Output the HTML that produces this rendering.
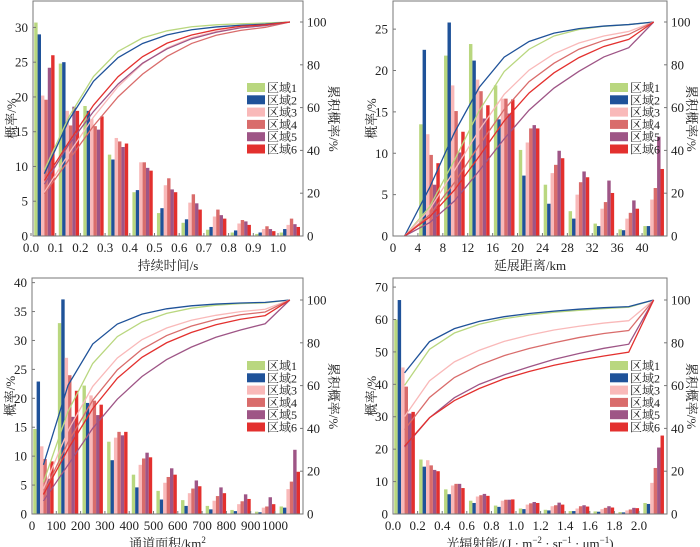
<!DOCTYPE html>
<html><head><meta charset="utf-8">
<style>
html,body{margin:0;padding:0;background:#fff;}
svg{display:block;}
text{font-family:"Liberation Serif","Noto Serif CJK SC","Noto Sans CJK SC",serif;fill:#222;}
</style></head>
<body>
<svg id="chart" width="700" height="547" viewBox="0 0 700 547" xmlns="http://www.w3.org/2000/svg"></svg>
<script>
// ---- shared
const regionNames = ["区域1","区域2","区域3","区域4","区域5","区域6"];
const regionColors = ["#b9d77f","#1f5299","#f9b9b9","#d96c6b","#9e5586","#e3302e"];

// ---- panel 1: duration
const durTicks = ["0.0","0.1","0.2","0.3","0.4","0.5","0.6","0.7","0.8","0.9","1.0"];
const durR1 = [30.7,24.8,18.7,11.7,6.3,3.3,1.9,0.9,0.5,0.3,0.5];
const durR2 = [29,25,18,11,6.6,4,2.4,1.3,0.8,0.5,1.0];
const durR3 = [20.2,18,16.8,14.1,10.6,7.3,4.8,2.8,1.8,1.0,1.6];
const durR4 = [19.6,15.9,15.8,13.6,10.6,8.3,6,3.8,2.3,1.4,2.5];
const durR5 = [24.2,18.6,15.3,12.8,9.8,6.7,4.7,3,2.1,1.0,1.7];
const durR6 = [26,18,17.2,13.3,9.4,6.3,3.8,2.5,1.6,0.7,1.3];
const durYTicks = [0,5,10,15,20,25,30];

// ---- panel 2: extension distance
const distTicks = [0,4,8,12,16,20,24,28,32,36,40];
const distR1 = [13.5,21.8,23.2,18.2,10.4,6.2,3,1.5,0.8,1.2];
const distR2 = [22.5,25.8,21.2,14.1,7.3,3.9,2.1,1.2,0.7,1.2];
const distR3 = [12.3,18.2,18.9,16.6,11.3,7.6,5,3.3,2.1,4.4];
const distR4 = [9.8,15.1,17.5,16.6,13,8.6,6.5,4.1,2.8,5.8];
const distR5 = [6.2,10.1,14.2,14.8,13.4,10.3,7.8,6.7,4.3,12];
const distR6 = [8.8,12.6,15.8,16.5,13,9.4,7.1,5.2,3.3,8.1];
const distYTicks = [0,5,10,15,20,25];

// ---- panel 3: channel area
const areaTicks = ["0","100","200","300","400","500","600","700","800","900","1000"];
const areaR1 = [14.7,33,22.2,12.5,6.8,4,2.4,1.4,0.7,0.4,1.3];
const areaR2 = [22.9,37.1,19.2,9.3,4.6,2.5,1.4,0.8,0.5,0.3,1.1];
const areaR3 = [11.7,27,20.5,13.2,8.5,5.4,3.6,2.3,1.7,1.1,4.3];
const areaR4 = [9.5,24,19.6,14.2,9.6,6.4,4.4,3.1,2.2,1.3,5.6];
const areaR5 = [6.1,16.8,17.1,13.6,10.6,7.9,5.8,4.6,3.4,2.9,11.1];
const areaR6 = [9.1,21.3,18.9,14.2,9.8,6.8,4.8,3.6,2.6,1.7,7.3];
const areaYTicks = [0,5,10,15,20,25,30,35,40];

// ---- panel 4: radiance
const radTicks = ["0.0","0.2","0.4","0.6","0.8","1.0","1.2","1.4","1.6","1.8","2.0"];
const radR1 = [60,16.8,7.6,4.1,2.6,1.7,1.3,0.9,0.8,0.6,3.4];
const radR2 = [66,14.6,6.1,3.4,2.2,1.5,1.1,0.9,0.7,0.5,3.1];
const radR3 = [45.2,16.6,8.8,5.4,4.1,2.9,2.4,1.7,1.5,1.1,9.6];
const radR4 = [39.3,15,9.3,5.8,4.4,3.3,2.7,2.4,1.9,1.4,14.2];
const radR5 = [31,13.6,9.3,6.2,4.4,3.7,3.5,2.7,2.4,1.9,20.5];
const radR6 = [31.5,13.2,8,5.6,4.5,3.4,2.9,2.3,2,1.8,24.2];
const radYTicks = [0,10,20,30,40,50,60,70];

const cumTicks = [0,20,40,60,80,100];

const NS = "http://www.w3.org/2000/svg";
const svg = document.getElementById('chart');
function mk(tag, attrs, parent){
  const e = document.createElementNS(NS, tag);
  for (const k in attrs) e.setAttribute(k, attrs[k]);
  (parent||svg).appendChild(e);
  return e;
}

function drawPanel(p){
  const g = mk('g', {});
  
  
  const yL = v => p.bottom - (v / p.yMax) * (p.bottom - p.top);
  const yR = v => p.bottom - (v / 100) * (p.bottom - p.r100);
  const binW = (p.right - p.left) / p.binsSpan;
  const binStart = i => p.left + (i + p.binOffset) * binW;
  const barW = binW * 0.138;
  p.series.forEach((s, r) => {
    s.forEach((v, i) => {
      const x = binStart(i) + binW*0.05 + r * barW;
      const rect = mk('rect', {x: x.toFixed(2), y: yL(v).toFixed(2), width: barW.toFixed(2), height: (p.bottom - yL(v)).toFixed(2), fill: regionColors[r]}, g);
      
      
    });
  });
  p.series.forEach((s, r) => {
    const total = s.reduce((a,b)=>a+b,0);
    let c = 0; const pts = [];
    const cx = i => binStart(i) + binW*0.05 + 3*barW;
    if (p.lineStartZero) pts.push([cx(-1), yR(0)]);
    s.forEach((v,i) => { c += v; pts.push([cx(i), yR(c/total*100)]); });
    const pl = mk('polyline', {points: pts.map(q=>q[0].toFixed(2)+','+q[1].toFixed(2)).join(' '), fill:'none', stroke: regionColors[r], 'stroke-width': 1.3}, g);
    
    
  });
  const fr = mk('rect', {x: p.left, y: p.top, width: p.right - p.left, height: p.bottom - p.top, fill:'none', stroke:'#777', 'stroke-width':1}, g);
  
  
  p.yTicks.forEach(v => {
    mk('line', {x1:p.left, x2:p.left+3, y1:yL(v), y2:yL(v), stroke:'#777'}, g);
    const t = mk('text', {x:p.left-5, y:yL(v)+4.5, 'text-anchor':'end', 'font-size':13}, g);
    t.textContent = v;
    
    
  });
  cumTicks.forEach(v => {
    mk('line', {x1:p.right-3, x2:p.right, y1:yR(v), y2:yR(v), stroke:'#777'}, g);
    const t = mk('text', {x:p.right+4, y:yR(v)+4.5, 'text-anchor':'start', 'font-size':13}, g);
    t.textContent = v;
    
    
  });
  p.xTicks.forEach((lab, i) => {
    const x = p.xTickPos(i);
    mk('line', {x1:x, x2:x, y1:p.bottom, y2:p.bottom-3, stroke:'#777'}, g);
    const t = mk('text', {x:x, y:p.bottom+16, 'text-anchor':'middle', 'font-size':13}, g);
    t.textContent = lab;
    
    
  });
  const xt = mk('text', {x:(p.left+p.right)/2, y:p.bottom+34, 'text-anchor':'middle', 'font-size':13}, g);
  xt.innerHTML = p.xTitle;
  
  
  const ym = (p.top+p.bottom)/2;
  const yt = mk('text', {x:0, y:0, 'text-anchor':'middle', 'font-size':13, transform:`translate(${p.left-17},${ym}) rotate(-90)`}, g);
  yt.textContent = '概率/%';
  
  
  const y2t = mk('text', {x:0, y:0, 'text-anchor':'middle', 'font-size':13, transform:`translate(${p.right+p.y2off},${ym}) rotate(90)`}, g);
  y2t.textContent = '累积概率/%';
  
  
  const lg = mk('g', {}, g);
  
  
  regionNames.forEach((n, r) => {
    const y = p.legY + r * 12.3;
    const sw = mk('rect', {x:p.legX, y:y, width:18, height:9, fill:regionColors[r]}, lg);
    
    
    const t = mk('text', {x:p.legX+20, y:y+9, 'font-size':12}, lg);
    t.textContent = n;
    
    
  });
}

drawPanel({name:'duration-panel', left:33, right:303, top:1, bottom:236, r100:22, yMax:33.8,
  series:[durR1,durR2,durR3,durR4,durR5,durR6], binsSpan:11, binOffset:0, y2off:26,
  yTicks:durYTicks, xTicks:durTicks, xTickPos:i=>31+24.7*i,
  xTitle:'持续时间/s', legX:247, legY:83});
drawPanel({name:'distance-panel', left:393, right:667, top:1, bottom:236, r100:22, yMax:28.4,
  series:[distR1,distR2,distR3,distR4,distR5,distR6], binsSpan:11, binOffset:1, lineStartZero:true, y2off:20,
  yTicks:distYTicks, xTicks:distTicks, xTickPos:i=>393+i*4*6.227,
  xTitle:'延展距离/km', legX:610, legY:83});
drawPanel({name:'area-panel', left:32, right:303, top:278, bottom:514, r100:300, yMax:40.8,
  series:[areaR1,areaR2,areaR3,areaR4,areaR5,areaR6], binsSpan:11, binOffset:0, y2off:26,
  yTicks:areaYTicks, xTicks:areaTicks, xTickPos:i=>32+24.3*i,
  xTitle:'通道面积/km<tspan font-size="9" dy="-5">2</tspan>', legX:247, legY:361});
drawPanel({name:'radiance-panel', left:393, right:667, top:278, bottom:514, r100:300, yMax:72.8,
  series:[radR1,radR2,radR3,radR4,radR5,radR6], binsSpan:11, binOffset:0, y2off:20,
  yTicks:radYTicks, xTicks:radTicks, xTickPos:i=>393+24.6*i,
  xTitle:'光辐射能/(J · m<tspan font-size="9" dy="-5">−2</tspan><tspan dy="5"> · sr</tspan><tspan font-size="9" dy="-5">−1</tspan><tspan dy="5"> · μm</tspan><tspan font-size="9" dy="-5">−1</tspan><tspan dy="5">)</tspan>', legX:610, legY:361});
</script>
</body></html>
